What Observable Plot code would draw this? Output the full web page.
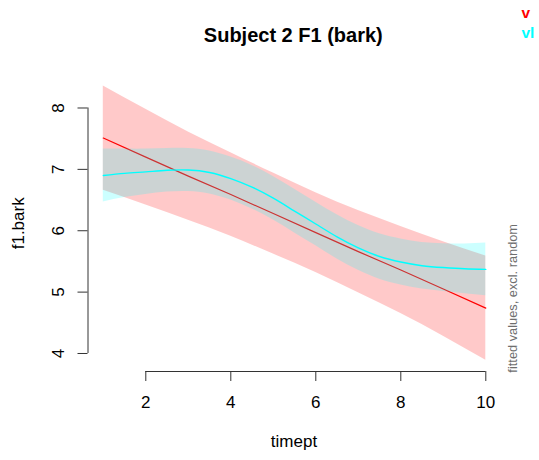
<!DOCTYPE html>
<html><head><meta charset="utf-8">
<script src="https://cdn.jsdelivr.net/npm/d3@7"></script>
<script src="https://cdn.jsdelivr.net/npm/@observablehq/plot@0.6"></script>
<style>
body{margin:0;background:#fff;}
#wrap{position:relative;width:539px;height:460px;overflow:hidden;font-family:"Liberation Sans",Arial,Helvetica,sans-serif;}
#wrap svg{position:absolute;left:0;top:0;}
</style></head><body><div id="wrap"></div>
<script>
// ---- data ----
const title = "Subject 2 F1 (bark)";
const xLabel = "timept";
const yLabel = "f1.bark";
const sideNote = "fitted values, excl. random";
const groups = ["v", "vl"];
const groupColors = ["#FF0000", "#00FFFF"];

const xTicks = [2, 4, 6, 8, 10];
const yTicks = [4, 5, 6, 7, 8];

// group "v" (red): linear fit with confidence band
const redX     = [1, 2, 3, 4, 5, 6, 7, 8, 9, 10];
const redFit   = [7.51, 7.20, 6.89, 6.59, 6.28, 5.97, 5.66, 5.36, 5.05, 4.74];
const redUpper = [8.36, 7.98, 7.61, 7.27, 6.94, 6.62, 6.33, 6.07, 5.82, 5.59];
const redLower = [6.66, 6.42, 6.17, 5.91, 5.62, 5.32, 4.99, 4.65, 4.28, 3.89];

// group "vl" (cyan): smooth fit with confidence band
const cyanX     = [1, 1.5, 2, 2.5, 3, 3.5, 4, 4.5, 5, 5.5, 6, 6.5, 7, 7.5, 8, 8.5, 9, 9.5, 10];
const cyanFit   = [6.90, 6.935, 6.96, 6.985, 6.99, 6.95, 6.85, 6.71, 6.53, 6.32, 6.11, 5.90, 5.72, 5.58, 5.49, 5.43, 5.40, 5.38, 5.37];
const cyanUpper = [7.33, 7.33, 7.33, 7.34, 7.34, 7.30, 7.20, 7.065, 6.885, 6.675, 6.465, 6.26, 6.085, 5.95, 5.865, 5.81, 5.79, 5.785, 5.80];
const cyanLower = [6.47, 6.54, 6.59, 6.63, 6.64, 6.60, 6.50, 6.355, 6.175, 5.965, 5.755, 5.54, 5.355, 5.21, 5.115, 5.05, 5.01, 4.975, 4.94];

// ---- build tables ----
const red = redX.map((x, i) => ({x, fit: redFit[i], lo: redLower[i], hi: redUpper[i]}));
const cyan = cyanX.map((x, i) => ({x, fit: cyanFit[i], lo: cyanLower[i], hi: cyanUpper[i]}));

const W = 539, H = 460;
const xDomain = [0.64, 10.36];
const yDomain = [3.7067, 8.5295];
const axisColor = "#333";
const font = "'Liberation Sans', Arial, Helvetica, sans-serif";

const chart = Plot.plot({
  width: W, height: H,
  marginLeft: 87.5, marginRight: 38.4, marginTop: 75, marginBottom: 89,
  style: {fontFamily: font, fontSize: "17px", background: "white", color: "#000"},
  x: {domain: xDomain, axis: null},
  y: {domain: yDomain, axis: null},
  marks: [
    Plot.areaY(red, {x: "x", y1: "lo", y2: "hi", fill: groupColors[0], fillOpacity: 0.21, curve: "natural"}),
    Plot.line(red, {x: "x", y: "fit", stroke: groupColors[0], strokeWidth: 1.2}),
    Plot.areaY(cyan, {x: "x", y1: "lo", y2: "hi", fill: groupColors[1], fillOpacity: 0.2, curve: "natural"}),
    Plot.line(cyan, {x: "x", y: "fit", stroke: groupColors[1], strokeWidth: 1.4, curve: "natural"}),
    // axis lines
    Plot.ruleY([yDomain[0]], {x1: xTicks[0], x2: xTicks[xTicks.length - 1], stroke: axisColor}),
    Plot.ruleX([xDomain[0]], {y1: yTicks[0], y2: yTicks[yTicks.length - 1], stroke: axisColor}),
    // ticks
    Plot.axisX({ticks: xTicks, tickSize: 10, tickFormat: () => "", stroke: axisColor, label: null}),
    Plot.axisY({ticks: yTicks, tickSize: 10, tickFormat: () => "", stroke: axisColor, label: null}),
    // tick labels
    Plot.text(xTicks, {x: d => d, y: yDomain[0], dy: 31.2, text: d => String(d), fontSize: 17, fill: "#000"}),
    Plot.text(yTicks, {x: xDomain[0], y: d => d, dx: -29.6, text: d => String(d), rotate: -90, fontSize: 17, fill: "#000"})
  ]
});
document.getElementById("wrap").appendChild(chart);

// overlay texts: title, axis titles, side note, legend
const ns = "http://www.w3.org/2000/svg";
const ov = document.createElementNS(ns, "svg");
ov.setAttribute("width", W); ov.setAttribute("height", H);
ov.style.fontFamily = font;
function addText(str, x, y, opts = {}) {
  const t = document.createElementNS(ns, "text");
  t.textContent = str;
  t.setAttribute("x", 0); t.setAttribute("y", 0);
  t.setAttribute("transform", `translate(${x},${y})` + (opts.rotate ? ` rotate(${opts.rotate})` : ""));
  t.setAttribute("text-anchor", opts.anchor || "middle");
  t.setAttribute("font-size", opts.size || 17);
  if (opts.bold) t.setAttribute("font-weight", "bold");
  t.setAttribute("fill", opts.fill || "#000");
  ov.appendChild(t);
}
addText(title, 293.3, 41.5, {size: 20, bold: true});
addText(xLabel, 294, 447, {size: 17});
addText(yLabel, 24, 223.3, {size: 17, rotate: -90});
addText(sideNote, 517, 298.3, {size: 12.8, rotate: -90, fill: "#6e6e6e"});
groups.forEach((g, i) => addText(g, 521.5, 18.3 + i * 20, {size: 15.5, bold: true, anchor: "start", fill: groupColors[i]}));
document.getElementById("wrap").appendChild(ov);
</script></body></html>
